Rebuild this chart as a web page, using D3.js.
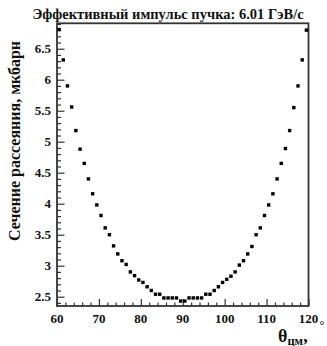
<!DOCTYPE html>
<html>
<head>
<meta charset="utf-8">
<script src="https://cdn.jsdelivr.net/npm/d3@7"></script>
<style>
  html, body { margin: 0; padding: 0; background: #fff; }
  svg { display: block; }
  text { font-family: "Liberation Serif", "Times New Roman", serif; font-weight: bold; fill: #111; }
</style>
</head>
<body>
<svg id="chart" width="327" height="346"></svg>
<script>
// Scattering angle in the CM frame (degrees), bin centres
const angles = d3.range(60.5, 120, 1);
// Cross section, mb
const crossSection = [
  6.81, 6.32, 5.90, 5.56, 5.18, 4.88, 4.65, 4.40, 4.16, 3.98,
  3.81, 3.61, 3.50, 3.32, 3.19, 3.08, 3.02, 2.90, 2.84, 2.77,
  2.73, 2.66, 2.60, 2.54, 2.54, 2.48, 2.48, 2.48, 2.48, 2.43,
  2.43, 2.48, 2.48, 2.48, 2.48, 2.54, 2.54, 2.60, 2.66, 2.73,
  2.78, 2.83, 2.90, 3.01, 3.08, 3.19, 3.31, 3.50, 3.61, 3.81,
  3.98, 4.16, 4.40, 4.65, 4.89, 5.18, 5.55, 5.90, 6.32, 6.80
];
const xTicks = [60, 70, 80, 90, 100, 110, 120];
const yTicks = [2.5, 3, 3.5, 4, 4.5, 5, 5.5, 6, 6.5];
const titleText = "Эффективный импульс пучка: 6.01 ГэВ/с";
const yTitle = "Сечение рассеяния, мкбарн";

const svg = d3.select("#chart");
const plotLeft = 57, plotRight = 308.5, plotTop = 23.3, plotBottom = 306;

const x = d3.scaleLinear().domain([60, 120]).range([plotLeft, plotRight]);
const y = d3.scaleLinear().domain([2.35, 6.91]).range([plotBottom, plotTop]);

const frameColor = "#333";

// Y axis: major ticks every 0.5, minor every 0.1, pointing inward
const yAxis = d3.axisRight(y)
  .tickValues(d3.range(24, 70).map(d => d / 10))
  .tickSize(4)
  .tickFormat("");
const ya = svg.append("g").attr("transform", `translate(${plotLeft},0)`).call(yAxis);
ya.selectAll(".tick line").attr("stroke", frameColor).attr("stroke-width", 1.2)
  .attr("x2", d => (Math.abs(d * 2 - Math.round(d * 2)) < 1e-6 ? 7.5 : 4));
ya.select(".domain").remove();

// X axis: major ticks every 10°, minor every 2°, pointing inward
const xAxis = d3.axisTop(x)
  .tickValues(d3.range(60, 121, 2))
  .tickSize(4)
  .tickFormat("");
const xa = svg.append("g").attr("transform", `translate(0,${plotBottom})`).call(xAxis);
xa.selectAll(".tick line").attr("stroke", frameColor).attr("stroke-width", 1.2)
  .attr("y2", d => (d % 10 === 0 ? -7 : -3.5));
xa.select(".domain").remove();

// Frame
svg.append("rect")
  .attr("x", plotLeft).attr("y", plotTop)
  .attr("width", plotRight - plotLeft).attr("height", plotBottom - plotTop)
  .attr("fill", "none").attr("stroke", frameColor).attr("stroke-width", 1.8);

// Tick labels
svg.append("g").selectAll("text").data(yTicks).join("text")
  .attr("x", 51).attr("y", d => y(d)).attr("dy", "0.35em")
  .attr("text-anchor", "end").attr("font-size", 13)
  .text(d3.format("~g"));

svg.append("g").selectAll("text").data(xTicks).join("text")
  .attr("x", d => x(d)).attr("y", 323)
  .attr("text-anchor", "middle").attr("font-size", 13)
  .text(d => d);
svg.append("text").attr("x", 319.5).attr("y", 328.5).attr("font-size", 12).text("°");

// Data points
svg.append("g").selectAll("rect").data(angles).join("rect")
  .attr("x", (d) => x(d) - 1.7)
  .attr("y", (d, i) => y(crossSection[i]) - 1.7)
  .attr("width", 3.4).attr("height", 3.4)
  .attr("fill", "#000");

// Title
svg.append("text").attr("x", 168).attr("y", 18.5)
  .attr("text-anchor", "middle").attr("font-size", 14.5)
  .text(titleText);

// Y axis title
svg.append("text")
  .attr("transform", "translate(20,141) rotate(-90)")
  .attr("text-anchor", "middle").attr("font-size", 16)
  .text(yTitle);

// X axis title: θ with subscript "цм"
const xt = svg.append("text").attr("x", 278).attr("y", 342).attr("font-size", 18);
xt.append("tspan").text("θ");
xt.append("tspan").attr("font-size", 12.5).attr("dy", 2.5).text("цм");
xt.append("tspan").attr("dy", -2.5).text(",");
</script>
</body>
</html>
